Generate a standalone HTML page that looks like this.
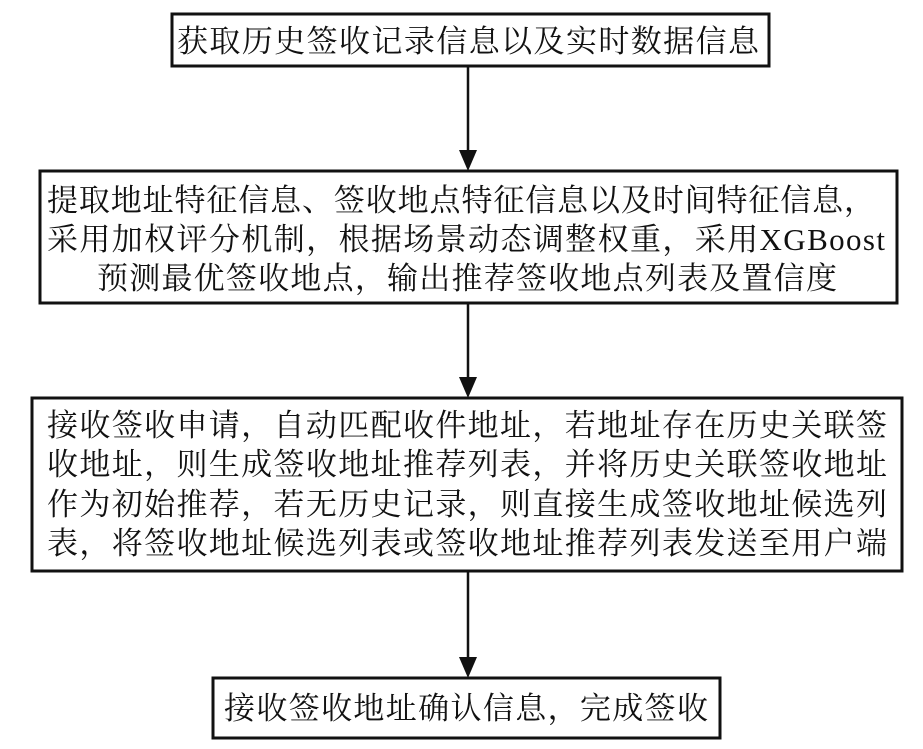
<!DOCTYPE html>
<html><head><meta charset="utf-8"><style>
html,body{margin:0;padding:0;background:#fff;}
svg{display:block}
text{font-family:"Liberation Serif","Noto Serif CJK SC",serif;font-size:31px;fill:#111;}
</style></head><body>
<svg width="923" height="749" viewBox="0 0 923 749" xmlns="http://www.w3.org/2000/svg">
<defs><marker id="a" markerWidth="10" markerHeight="12" refX="9" refY="6" orient="auto" markerUnits="userSpaceOnUse"><path d="M0,0 L10,6 L0,12 Z" fill="#111"/></marker></defs>
<g fill="none" stroke="#111" stroke-width="3">
<rect x="172" y="14" width="597" height="52"/>
<rect x="40" y="171" width="857" height="132"/>
<rect x="32" y="398" width="870" height="173"/>
<rect x="213" y="678" width="507" height="60"/>
</g>
<g stroke="#111" stroke-width="2.5" fill="none">
<line x1="468" y1="66" x2="468" y2="152"/>
<line x1="468" y1="303" x2="468" y2="379"/>
<line x1="468" y1="571" x2="468" y2="659"/>
</g>
<g fill="#111">
<path d="M459,150 L477,150 L468,171 Z"/>
<path d="M459,377 L477,377 L468,398 Z"/>
<path d="M459,657 L477,657 L468,678 Z"/>
</g>
<text x="177" y="52" textLength="582" lengthAdjust="spacing">获取历史签收记录信息以及实时数据信息</text>
<text x="47" y="211" textLength="828" lengthAdjust="spacing">提取地址特征信息、签收地点特征信息以及时间特征信息，</text>
<text x="47" y="250" textLength="838" lengthAdjust="spacing">采用加权评分机制，根据场景动态调整权重，采用XGBoost</text>
<text x="97" y="289" textLength="740" lengthAdjust="spacing">预测最优签收地点，输出推荐签收地点列表及置信度</text>
<text x="47" y="436" textLength="840" lengthAdjust="spacing">接收签收申请，自动匹配收件地址，若地址存在历史关联签</text>
<text x="47" y="475" textLength="840" lengthAdjust="spacing">收地址，则生成签收地址推荐列表，并将历史关联签收地址</text>
<text x="47" y="515" textLength="840" lengthAdjust="spacing">作为初始推荐，若无历史记录，则直接生成签收地址候选列</text>
<text x="47" y="554" textLength="840" lengthAdjust="spacing">表，将签收地址候选列表或签收地址推荐列表发送至用户端</text>
<text x="224" y="719" textLength="484" lengthAdjust="spacing">接收签收地址确认信息，完成签收</text>
</svg>
</body></html>
